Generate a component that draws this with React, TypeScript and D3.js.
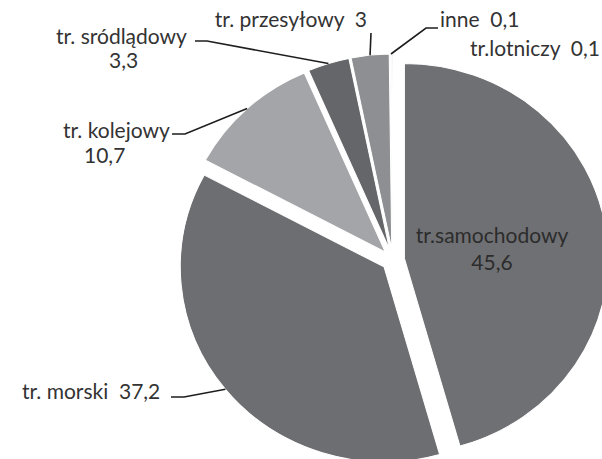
import React from "react";
import * as d3 from "d3";

// Udział gałęzi transportu (%)
const categories = [
  "tr.samochodowy",
  "tr. morski",
  "tr. kolejowy",
  "tr. sródlądowy",
  "tr. przesyłowy",
  "inne",
  "tr.lotniczy",
];
const values = [45.6, 37.2, 10.7, 3.3, 3, 0.1, 0.1];
const sliceColors = ["#6f7073", "#6d6e71", "#a4a5a8", "#656669", "#8e8f92", "#b9babc", "#c8c9cb"];

const W = 602;
const H = 459;
const CX = 393;
const CY = 260;
const R = 195;
const SX = 1.045;
const EXPLODE = 11;
const FONT = 21;

const fmt = (v: number) => String(v).replace(".", ",");

// label layout: text lines, anchor and optional leader elbow
type LabelSpec = {
  lines: string[];
  x: number;
  y: number;
  anchor: "start" | "middle" | "end";
  lineX?: number[];
  gap?: number;
  leader?: [number, number][];
};

const labelLayout: LabelSpec[] = [
  { lines: [categories[0], fmt(values[0])], x: 492, y: 243, anchor: "middle", lineX: [492, 492], gap: 27 },
  { lines: [`${categories[1]}  ${fmt(values[1])}`], x: 22, y: 399, anchor: "start", leader: [[171, 397], [184, 397]] },
  { lines: [categories[2], fmt(values[2])], x: 63, y: 138, anchor: "start", lineX: [63, 84], gap: 25, leader: [[172, 134], [185, 134]] },
  { lines: [categories[3], fmt(values[3])], x: 56, y: 44, anchor: "start", lineX: [56, 109], gap: 24, leader: [[195, 41], [207, 41]] },
  { lines: [`${categories[4]}  ${fmt(values[4])}`], x: 367, y: 27, anchor: "end", leader: [[371, 33], [371, 33]] },
  { lines: [`${categories[5]}  ${fmt(values[5])}`], x: 440, y: 27, anchor: "start", leader: [[438, 28], [426, 28]] },
  { lines: [`${categories[6]}  ${fmt(values[6])}`], x: 600, y: 56, anchor: "end" },
];

export default function App() {
  const pie = d3
    .pie<number>()
    .sort(null)
    .startAngle(0)
    .endAngle(2 * Math.PI)
    .value((d) => d);
  const arcs = pie(values);
  const arc = d3.arc<d3.PieArcDatum<number>>().innerRadius(0).outerRadius(R);

  const offset = (a: d3.PieArcDatum<number>) => {
    const m = (a.startAngle + a.endAngle) / 2;
    return [Math.sin(m) * EXPLODE, -Math.cos(m) * EXPLODE];
  };

  // outer point of a slice at its mid angle, in page coordinates
  const edgePoint = (a: d3.PieArcDatum<number>) => {
    const m = (a.startAngle + a.endAngle) / 2;
    const [ox, oy] = offset(a);
    return [CX + (ox + Math.sin(m) * R) * SX, CY + oy - Math.cos(m) * R];
  };

  const line = d3.line();

  return (
    <svg
      width={W}
      height={H}
      viewBox={`0 0 ${W} ${H}`}
      style={{ position: "absolute", left: 0, top: 0, background: "#fff" }}
      fontFamily="Lato, 'Open Sans', sans-serif"
    >
      <g transform={`translate(${CX},${CY}) scale(${SX},1)`}>
        {arcs.map((a, i) => {
          const [ox, oy] = offset(a);
          return (
            <path
              key={categories[i]}
              d={arc(a) || ""}
              transform={`translate(${ox},${oy})`}
              fill={sliceColors[i]}
              stroke="#fff"
              strokeWidth={1}
            />
          );
        })}
      </g>
      {labelLayout.map((l, i) => {
        if (!l.leader) return null;
        const pts = [...l.leader, edgePoint(arcs[i]) as [number, number]];
        return (
          <path key={`ld${i}`} d={line(pts) || ""} fill="none" stroke="#1e1e1e" strokeWidth={1.6} />
        );
      })}
      {labelLayout.map((l, i) => (
        <text
          key={`lb${i}`}
          fontSize={FONT}
          fill={i === 0 ? "#2c2c2c" : "#333"}
          textAnchor={l.anchor}
          style={{ whiteSpace: "pre" }}
        >
          {l.lines.map((t, j) => (
            <tspan key={j} x={l.lineX ? l.lineX[j] : l.x} y={l.y + j * (l.gap || 0)}>
              {t}
            </tspan>
          ))}
        </text>
      ))}
    </svg>
  );
}
